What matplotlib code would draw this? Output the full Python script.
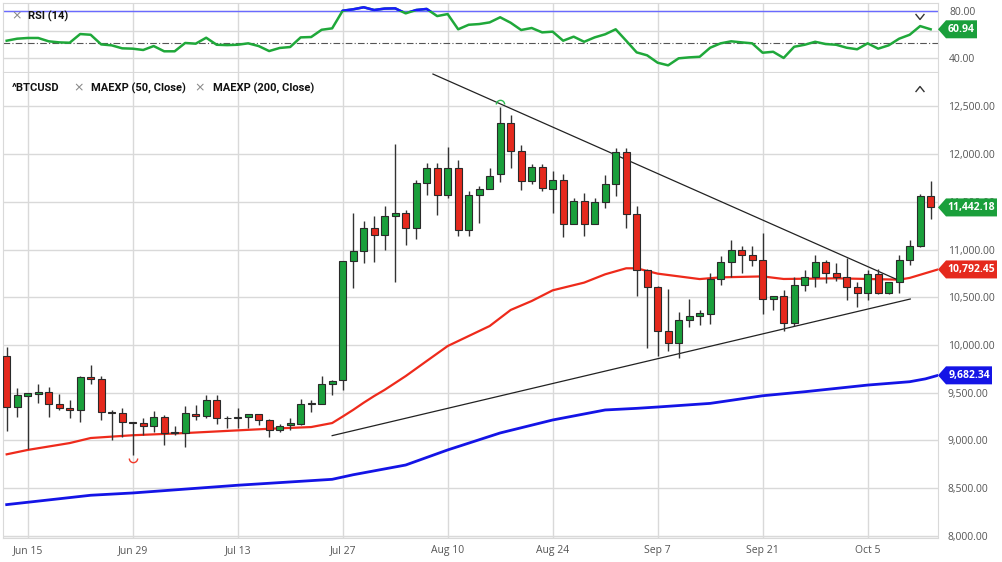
import numpy as np
import pandas as pd
import matplotlib
matplotlib.use('Agg')
import matplotlib.pyplot as plt
from matplotlib.patches import Polygon
from matplotlib.path import Path

# Daily (weekday) candles of ^BTCUSD, Jun 11 - Oct 13 2020
dates = pd.bdate_range('2020-06-11', '2020-10-13')
opens = [9882, 9354, 9470, 9489, 9504, 9379, 9336, 9322, 9668, 9646,
         9296, 9282, 9190, 9182, 9150, 9247, 9090, 9082, 9279, 9258,
         9426, 9230, 9238, 9250, 9276, 9210, 9105, 9161, 9175, 9377,
         9380, 9591, 9629, 10881, 10986, 11224, 11157, 11350, 11384, 11224,
         11699, 11860, 11577, 11860, 11203, 11573, 11633, 11797, 12325, 12035,
         11720, 11867, 11630, 11731, 11273, 11510, 11266, 11503, 11685, 12024,
         11377, 10790, 10606, 10143, 10021, 10258, 10307, 10328, 10691, 10866,
         10998, 10946, 10895, 10482, 10517, 10231, 10629, 10717, 10870, 10755,
         10710, 10608, 10545, 10741, 10545, 10657, 10895, 11038, 11566]
highs = [9982, 9554, 9500, 9596, 9560, 9486, 9425, 9670, 9793, 9675,
         9321, 9336, 9196, 9232, 9311, 9268, 9146, 9357, 9374, 9472,
         9472, 9252, 9339, 9276, 9276, 9227, 9171, 9234, 9433, 9426,
         9671, 9636, 10878, 11388, 11301, 11353, 11458, 12105, 11412, 11727,
         11912, 11912, 12077, 11937, 11615, 11668, 11860, 12490, 12409, 12098,
         11895, 11895, 11825, 11790, 11538, 11591, 11545, 11780, 12063, 12063,
         11458, 10794, 10619, 10590, 10342, 10482, 10370, 10754, 10929, 11103,
         11040, 11033, 11175, 10517, 10573, 10713, 10790, 10947, 10895, 10860,
         10913, 10657, 10790, 10797, 10664, 10947, 11105, 11587, 11724]
lows = [9097, 9247, 8910, 9390, 9250, 9321, 9240, 9193, 9596, 9214,
        9007, 9040, 8850, 9061, 9090, 8954, 9054, 8936, 9210, 9234,
        9171, 9129, 9129, 9129, 9160, 9035, 9084, 9112, 9157, 9297,
        9377, 9479, 9531, 10601, 10863, 10870, 10993, 10664, 11049, 11115,
        11573, 11363, 11538, 11143, 11143, 11283, 11633, 11710, 11850, 11622,
        11692, 11615, 11388, 11133, 11266, 11143, 11266, 11440, 11563, 11230,
        10512, 9965, 9885, 9934, 9864, 10189, 10213, 10220, 10628, 10712,
        10754, 10824, 10328, 10370, 10150, 10203, 10563, 10608, 10650, 10668,
        10468, 10398, 10475, 10538, 10538, 10545, 10843, 11028, 11322]
closes = [9354, 9471, 9492, 9504, 9379, 9336, 9322, 9668, 9646, 9293,
          9282, 9193, 9180, 9150, 9247, 9082, 9078, 9282, 9258, 9426,
          9234, 9238, 9242, 9276, 9213, 9105, 9154, 9178, 9377, 9390,
          9591, 9626, 10878, 10986, 11224, 11157, 11349, 11388, 11224, 11699,
          11860, 11577, 11860, 11203, 11573, 11633, 11776, 12325, 12035, 11720,
          11867, 11650, 11731, 11273, 11510, 11273, 11503, 11685, 12024, 11377,
          10790, 10607, 10145, 10021, 10258, 10300, 10332, 10691, 10866, 10998,
          10939, 10887, 10482, 10517, 10231, 10629, 10717, 10870, 10755, 10710,
          10608, 10545, 10741, 10545, 10664, 10895, 11038, 11566, 11442]

rsi = [54.8, 56.5, 57.1, 57.1, 54.3, 53.4, 53.1, 60.4, 59.8, 51.7,
       50.9, 48.4, 48.1, 47.0, 50.3, 45.9, 45.9, 52.9, 52.3, 57.3,
       51.4, 51.1, 51.4, 52.6, 50.3, 46.1, 48.7, 49.5, 57.6, 57.9,
       64.0, 65.2, 80.0, 81.2, 82.9, 80.6, 81.8, 82.0, 77.8, 80.6,
       81.5, 75.5, 77.2, 64.4, 68.2, 68.8, 70.2, 74.5, 69.9, 63.8,
       65.5, 61.8, 62.4, 54.8, 58.2, 53.9, 57.6, 60.2, 64.4, 54.8,
       45.0, 42.5, 36.3, 34.1, 40.0, 40.8, 41.3, 48.9, 52.6, 54.3,
       53.4, 52.6, 44.7, 45.5, 40.3, 49.7, 51.4, 53.9, 52.0, 51.4,
       48.9, 47.6, 52.6, 48.1, 50.9, 56.5, 59.8, 67.1, 64.4]

# moving averages (bar number from Jun 11 = 0)
ema50_bar = [0, 2, 6, 8, 12, 17, 25, 29, 31, 32, 33, 34, 35, 36, 38, 40, 42,
             46, 48, 50, 52, 55, 57, 59, 60, 62, 66, 68, 72, 74, 79, 85, 86, 88.7]
ema50_val = [8854, 8900, 8972, 9025, 9054, 9077, 9122, 9140, 9182, 9250, 9320,
             9395, 9465, 9530, 9674, 9832, 9989, 10199, 10367, 10461, 10573,
             10654, 10741, 10804, 10804, 10748, 10691, 10709, 10719, 10692,
             10699, 10685, 10703, 10792]
ema200_bar = [0, 8, 12, 22, 31, 33, 38, 42, 47, 52, 57, 60, 62, 67, 72, 76, 82, 86, 87.5, 88.7]
ema200_val = [8327, 8425, 8449, 8530, 8592, 8640, 8742, 8900, 9078, 9214, 9319,
              9336, 9350, 9388, 9468, 9510, 9580, 9615, 9645, 9682]

# hand-drawn trendlines (bar, price)
trend_down_bar = [40.6, 85.1]
trend_down_val = [12840, 10671]
trend_up_bar = [31.0, 86.06]
trend_up_val = [9050, 10482]

pivot_low = (12, 8816)
pivot_high = (47, 12522)

tick_labels = ['Jun 15', 'Jun 29', 'Jul 13', 'Jul 27', 'Aug 10', 'Aug 24', 'Sep 7', 'Sep 21', 'Oct 5']
tick_dates = ['2020-06-15', '2020-06-29', '2020-07-13', '2020-07-27', '2020-08-10',
              '2020-08-24', '2020-09-07', '2020-09-21', '2020-10-05']
price_ticks = [8000, 8500, 9000, 9500, 10000, 10500, 11000, 11500, 12000, 12500]

GREEN = '#1a9f3b'
RED = '#e5291d'
BLUE = '#1414e6'
GRID = '#d9d9d9'
LABEL = '#555555'

o = np.array(opens, float)
h = np.array(highs, float)
l = np.array(lows, float)
c = np.array(closes, float)
x = np.arange(len(dates))
tick_pos = [dates.get_loc(pd.Timestamp(d)) for d in tick_dates]

W, H = 1003, 562
fig = plt.figure(figsize=(W / 100, H / 100), dpi=100)
ax_rsi = fig.add_axes([3 / W, 1 - 72 / H, 935 / W, 69 / H])
ax = fig.add_axes([3 / W, 1 - 538 / H, 935 / W, 465 / H])

xlim = (-0.35, 88.7)

# ---- main panel
ax.set_xlim(*xlim)
ax.set_ylim(7977, 12851)
ax.set_yticks(price_ticks)
ax.set_yticklabels([f'{v:,.2f}' for v in price_ticks])
ax.set_xticks(tick_pos)
ax.set_xticklabels(tick_labels)
ax.yaxis.tick_right()
ax.tick_params(axis='y', length=0, pad=7, labelsize=7.5, labelcolor=LABEL)
ax.tick_params(axis='x', length=0, pad=5, labelsize=7.5, labelcolor=LABEL)
for t in ax.get_xticklabels() + ax.get_yticklabels():
    t.set_fontfamily('Open Sans')
ax.grid(True, color=GRID, lw=1)
ax.set_axisbelow(True)
for s in ax.spines.values():
    s.set_color(GRID)
ax.spines['top'].set_visible(False)
ax.axhline(8000 - 25, color=GRID, lw=1, zorder=1)

ax.plot(ema200_bar, ema200_val, color=BLUE, lw=2, zorder=2, clip_on=False)
ax.plot(ema50_bar, ema50_val, color='#ee2a1b', lw=1.6, zorder=2, clip_on=False)
ax.plot(trend_down_bar, trend_down_val, color='#222222', lw=0.9, zorder=2)
ax.plot(trend_up_bar, trend_up_val, color='#222222', lw=0.9, zorder=2)

up = c >= o
ax.vlines(x, l, h, color='#333333', lw=1, zorder=3)
ax.bar(x, np.maximum(np.abs(c - o), 6), bottom=np.minimum(o, c), width=0.66,
       color=np.where(up, GREEN, RED), edgecolor='#2a2a2a', lw=0.8, zorder=4)

ax.plot(*pivot_low, marker=Path.arc(180, 360), ms=6, mfc='none', mec='#f03a2a', mew=1, zorder=5)
ax.plot(*pivot_high, marker=Path.arc(0, 180), ms=6, mfc='none', mec='#2dbb50', mew=1, zorder=5)

# ---- RSI panel
ax_rsi.set_xlim(*xlim)
ax_rsi.set_ylim(28.5, 86.5)
ax_rsi.set_xticks(tick_pos)
ax_rsi.set_xticklabels([])
ax_rsi.set_yticks([40, 63.2, 80])
ax_rsi.set_yticklabels(['40.00', '', '80.00'])
ax_rsi.yaxis.tick_right()
ax_rsi.tick_params(length=0, pad=8, labelsize=7.5, labelcolor=LABEL)
for t in ax_rsi.get_yticklabels():
    t.set_fontfamily('Open Sans')
ax_rsi.grid(True, color=GRID, lw=1)
ax_rsi.set_axisbelow(True)
for s in ax_rsi.spines.values():
    s.set_color(GRID)
ax_rsi.axhline(80, color='#6a6aff', lw=1, zorder=2)
ax_rsi.axhline(52.9, color='#555555', lw=0.8, ls=(0, (6, 2, 1, 2)), zorder=2)
ax_rsi.plot(x, rsi, color='#1fa83a', lw=1.8, zorder=3)
over = ax_rsi.plot(x, rsi, color='#1a1aff', lw=1.8, zorder=4)[0]
clip = plt.Rectangle((xlim[0], 80), xlim[1] - xlim[0], 20, transform=ax_rsi.transData,
                     fill=False, visible=False)
ax_rsi.add_patch(clip)
over.set_clip_path(clip)

# ---- headers
def ftext(px, py, s, **kw):
    fig.text(px / W, 1 - py / H, s, va='center', **kw)

ftext(17, 16, '×', color='#888888', fontsize=9, ha='center')
ftext(28, 16, 'RSI (14)', color='#111111', fontsize=8, fontweight='bold', family='Roboto')
ftext(12, 88, '^BTCUSD', color='#111111', fontsize=8, fontweight='bold', family='Roboto')
ftext(79, 88, '×', color='#888888', fontsize=9, ha='center')
ftext(91, 88, 'MAEXP (50, Close)', color='#111111', fontsize=8, fontweight='bold', family='Roboto')
ftext(200, 88, '×', color='#888888', fontsize=9, ha='center')
ftext(213, 88, 'MAEXP (200, Close)', color='#111111', fontsize=8, fontweight='bold', family='Roboto')

def chevron(px, py, down):
    d = 2.5 if down else -2.5
    fig.add_artist(plt.Line2D([(px - 4) / W, px / W, (px + 4) / W],
                              [1 - (py - d) / H, 1 - (py + d) / H, 1 - (py - d) / H],
                              transform=fig.transFigure, color='#333333', lw=1))

chevron(920, 17, True)
chevron(920, 89, False)

# ---- value tags on the right
def tag(axis, value, text, color, right=997):
    fig.canvas.draw()
    yd = axis.transData.transform((0, value))[1]
    tip = axis.transAxes.transform((1, 0))[0]
    hh = 9
    pts = [(tip, yd), (tip + 8, yd + hh), (right, yd + hh), (right, yd - hh), (tip + 8, yd - hh)]
    fig.add_artist(Polygon([(px / W, py / H) for px, py in pts], closed=True,
                           transform=fig.transFigure, color=color, lw=0, zorder=5))
    fig.text((tip + 8 + right) / 2 / W, yd / H, text, ha='center', va='center', zorder=6,
             color='white', fontsize=7.5, fontweight='bold', family='Open Sans')

tag(ax, closes[-1], '11,442.18', GREEN)
tag(ax, ema50_val[-1], '10,792.45', RED)
tag(ax, ema200_val[-1], '9,682.34', BLUE, right=992)
tag(ax_rsi, rsi[-1], '60.94', GREEN, right=977)

fig.savefig('out.png', dpi=100)
